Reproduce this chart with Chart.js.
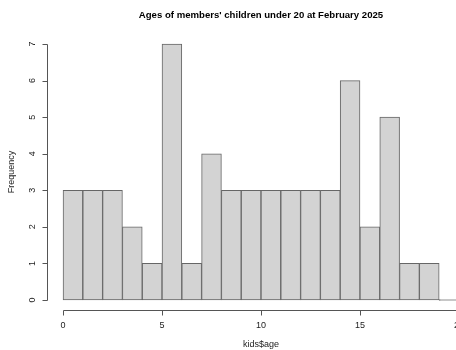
<!DOCTYPE html>
<html>
<head>
<meta charset="utf-8">
<script src="https://cdn.jsdelivr.net/npm/chart.js@4/dist/chart.umd.min.js"></script>
<style>
  html, body { margin: 0; padding: 0; background: #fff; overflow: hidden; }
  #wrap { width: 522px; height: 350px; }
</style>
</head>
<body>
<div id="wrap"><canvas id="hist" width="522" height="350"></canvas></div>
<script>
// one bin per year of age: [0,1), [1,2) ... [19,20)
const binStarts = [0, 1, 2, 3, 4, 5, 6, 7, 8, 9, 10, 11, 12, 13, 14, 15, 16, 17, 18, 19];
const counts    = [3, 3, 3, 2, 1, 7, 1, 4, 3, 3, 3, 3, 3, 3, 6, 2, 5, 1, 1, 0];
const xTicks = [0, 5, 10, 15, 20];
const yTicks = [0, 1, 2, 3, 4, 5, 6, 7];

const FONT = "'Liberation Sans', Arial, sans-serif";
const AXIS_COL = '#555';

// R style axes, drawn off the chart scales
const rAxes = {
    id: 'rAxes',
    afterDraw(chart) {
        const { ctx, chartArea: area, scales: { x, y } } = chart;
        ctx.save();
        ctx.strokeStyle = AXIS_COL;
        ctx.fillStyle = '#222';
        ctx.lineWidth = 1;
        ctx.font = '9px ' + FONT;

        // y axis
        const ax = Math.round(area.left) + 0.5;
        ctx.beginPath();
        ctx.moveTo(ax, Math.round(y.getPixelForValue(yTicks[0])) + 0.5);
        ctx.lineTo(ax, Math.round(y.getPixelForValue(yTicks[yTicks.length - 1])) + 0.5);
        yTicks.forEach(v => {
            const py = Math.round(y.getPixelForValue(v)) + 0.5;
            ctx.moveTo(ax - 5, py);
            ctx.lineTo(ax, py);
        });
        ctx.stroke();
        ctx.textAlign = 'center';
        ctx.textBaseline = 'middle';
        yTicks.forEach(v => {
            ctx.save();
            ctx.translate(33, y.getPixelForValue(v));
            ctx.rotate(-Math.PI / 2);
            ctx.fillText(String(v), 0, 0);
            ctx.restore();
        });

        // x axis
        const ay = Math.round(area.bottom) + 0.5;
        ctx.beginPath();
        ctx.moveTo(Math.round(x.getPixelForValue(xTicks[0])) + 0.5, ay);
        ctx.lineTo(Math.round(x.getPixelForValue(xTicks[xTicks.length - 1])) + 0.5, ay);
        xTicks.forEach(v => {
            const px = Math.round(x.getPixelForValue(v)) + 0.5;
            ctx.moveTo(px, ay);
            ctx.lineTo(px, ay + 5);
        });
        ctx.stroke();
        xTicks.forEach(v => ctx.fillText(String(v), x.getPixelForValue(v), ay + 15));

        // axis titles
        ctx.fillText('kids$age', (area.left + area.right) / 2, 345);
        ctx.save();
        ctx.translate(12, (area.top + area.bottom) / 2);
        ctx.rotate(-Math.PI / 2);
        ctx.fillText('Frequency', 0, 0);
        ctx.restore();
        ctx.restore();
    }
};

const ctx = document.getElementById('hist').getContext('2d');
const histChart = new Chart(ctx, {
    type: 'bar',
    data: {
        datasets: [{
            label: 'kids$age',
            data: binStarts.map((b, i) => ({ x: b + 0.5, y: counts[i] })),
            backgroundColor: '#d3d3d3',
            borderColor: '#666',
            borderWidth: 1,
            borderSkipped: false,
            minBarLength: 1,
            barPercentage: 1,
            categoryPercentage: 1
        }]
    },
    options: {
        responsive: false,
        animation: false,
        layout: { padding: { left: 47.2, right: 47.2, bottom: 39.8, top: 0 } },
        scales: {
            x: { type: 'linear', display: false, offset: false, min: -0.8, max: 20.8 },
            y: { display: false, min: -0.28, max: 7.28 }
        },
        plugins: {
            legend: { display: false },
            tooltip: { enabled: false },
            title: {
                display: true,
                text: "Ages of members' children under 20 at February 2025",
                color: '#000',
                font: { family: FONT, size: 9.6, weight: 'bold', lineHeight: 1.2 },
                padding: { top: 9.7, bottom: 12.6 }
            }
        }
    },
    plugins: [rAxes]
});
</script>
</body>
</html>
